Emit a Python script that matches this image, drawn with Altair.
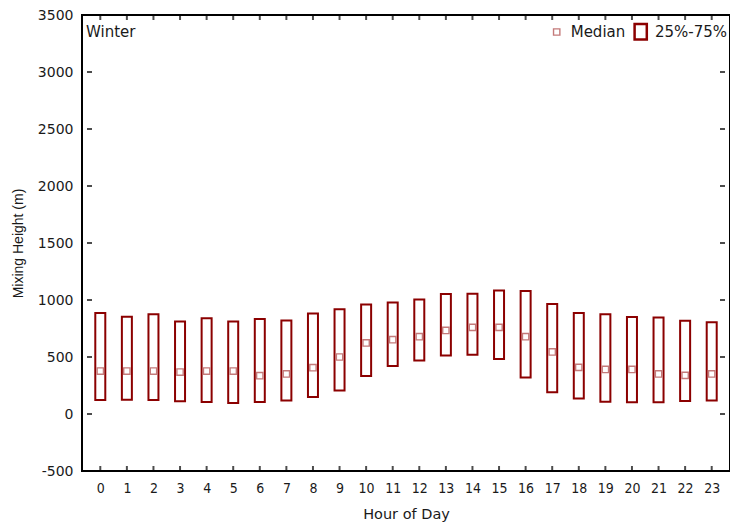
import altair as alt
import pandas as pd

hours = list(range(24))
q75 = [886, 853, 874, 812, 839, 812, 833, 821, 882, 918, 961, 979,
       1005, 1053, 1055, 1084, 1079, 965, 886, 874, 851, 847, 818, 804]
q25 = [123, 125, 123, 111, 105, 96, 105, 119, 149, 207, 333, 421,
       470, 514, 520, 482, 321, 190, 137, 108, 102, 102, 114, 119]
median = [377, 377, 377, 368, 377, 377, 336, 351, 406, 500, 623, 652,
          678, 733, 760, 760, 678, 544, 409, 391, 391, 351, 339, 351]
y_ticks = [-500, 0, 500, 1000, 1500, 2000, 2500, 3000, 3500]
season = ["Winter"]
legend_median = ["Median"]
legend_box = ["25%-75%"]

DARK = "#8b0000"
LIGHT = "#c47a7a"
TXT = "#1a1a1a"

df = pd.DataFrame({"hour": hours, "q25": q25, "q75": q75, "median": median})
tick_df = pd.DataFrame({"v": y_ticks})

x_scale = alt.Scale(domain=[-0.5, 23.5], nice=False, zero=False)
y_scale = alt.Scale(domain=[-500, 3500], nice=False, zero=False)

x_axis = alt.Axis(values=hours, title="Hour of Day", labelAngle=0,
                  labelExpr="'' + datum.value",
                  labelOverlap=False, grid=False, ticks=False, domain=False,
                  labelFont="Liberation Sans Narrow, DejaVu Sans Condensed, sans-serif",
                  labelFontSize=14, labelPadding=10, labelColor=TXT,
                  titleFont="DejaVu Sans", titleFontSize=14.5, titleFontWeight="normal",
                  titleColor=TXT, titlePadding=12)
y_axis = alt.Axis(values=y_ticks, title="Mixing Height (m)",
                  labelExpr="'' + datum.value",
                  labelOverlap=False, grid=False, ticks=False, domain=False,
                  labelFont="DejaVu Sans", labelFontSize=14, labelPadding=9, labelColor=TXT,
                  titleFont="Liberation Sans", titleFontSize=14, titleFontWeight="normal",
                  titleColor=TXT, titlePadding=12)

X = lambda f: alt.X(f, scale=x_scale, axis=x_axis)
Y = lambda f: alt.Y(f, scale=y_scale, axis=y_axis)

base = alt.Chart(df)

boxes = base.mark_bar(size=10, fill="white", stroke=DARK, strokeWidth=2).encode(
    x=X("hour:Q"), y=Y("q25:Q"), y2="q75:Q")

meds = base.mark_point(shape="square", size=40, filled=False, stroke=LIGHT,
                       strokeWidth=1.4, opacity=1).encode(
    x=X("hour:Q"), y=Y("median:Q"))

bottom_ticks = base.mark_tick(orient="vertical", size=5, thickness=2, color="black",
                              yOffset=-2.5).encode(x=X("hour:Q"), y=alt.YDatum(-500, scale=y_scale, axis=y_axis))
top_ticks = base.mark_tick(orient="vertical", size=5, thickness=2, color="black",
                           yOffset=2.5).encode(x=X("hour:Q"), y=alt.YDatum(3500, scale=y_scale, axis=y_axis))
tbase = alt.Chart(tick_df)
left_ticks = tbase.mark_tick(orient="horizontal", size=5, thickness=2, color="black",
                             xOffset=2.5).encode(y=Y("v:Q"), x=alt.XDatum(-0.5, scale=x_scale, axis=x_axis))
right_ticks = tbase.mark_tick(orient="horizontal", size=5, thickness=2, color="black",
                              xOffset=-2.5).encode(y=Y("v:Q"), x=alt.XDatum(23.5, scale=x_scale, axis=x_axis))

season_text = alt.Chart(pd.DataFrame({"t": season})).mark_text(
    align="left", baseline="middle", font="DejaVu Sans", fontSize=15, color=TXT).encode(
    x=alt.value(4), y=alt.value(17), text="t:N")

leg_med_sym = alt.Chart(pd.DataFrame({"t": legend_median})).mark_point(
    shape="square", size=40, filled=False, stroke=LIGHT, strokeWidth=1.4, opacity=1).encode(
    x=alt.value(474.7), y=alt.value(17))
leg_med_txt = alt.Chart(pd.DataFrame({"t": legend_median})).mark_text(
    align="left", baseline="middle", font="DejaVu Sans", fontSize=15, color=TXT).encode(
    x=alt.value(488.7), y=alt.value(17), text="t:N")
leg_box_sym = alt.Chart(pd.DataFrame({"t": legend_box})).mark_rect(
    fill="white", stroke=DARK, strokeWidth=2.5).encode(
    x=alt.value(552.6), x2=alt.value(564.8), y=alt.value(9), y2=alt.value(24.5))
leg_box_txt = alt.Chart(pd.DataFrame({"t": legend_box})).mark_text(
    align="left", baseline="middle", font="DejaVu Sans", fontSize=15, color=TXT).encode(
    x=alt.value(573), y=alt.value(17), text="t:N")

chart = alt.layer(
    boxes, meds, bottom_ticks, top_ticks, left_ticks, right_ticks,
    season_text, leg_med_sym, leg_med_txt, leg_box_sym, leg_box_txt
).properties(
    width=648, height=456,
    autosize="none",
    background="white",
    padding={"left": 74, "top": 7, "right": 0, "bottom": 53},
).configure_view(
    stroke="black", strokeWidth=2
).configure_axis(
    grid=False, domain=False, ticks=False
)

chart.save("out.html", embed_options={"renderer": "svg", "actions": False})
